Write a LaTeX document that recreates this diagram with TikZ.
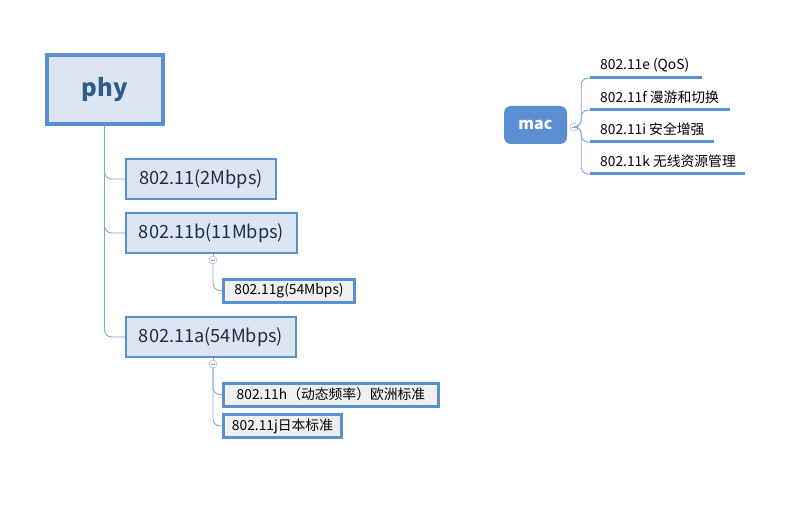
\documentclass[tikz,border=0pt]{standalone}
\usepackage{fontspec}
\setmainfont{Noto Sans CJK SC}
\definecolor{mapblue}{HTML}{5B8FD4}
\definecolor{mapfill}{HTML}{DCE6F2}
\definecolor{mapgray}{HTML}{F0F0F0}
\definecolor{maptext}{HTML}{1F2D4A}
\definecolor{mapline}{HTML}{80A6DA}
\definecolor{phytext}{HTML}{2E5A8E}
\begin{document}
\begin{tikzpicture}[
    x=1pt, y=-1pt,
    root/.style={rectangle, draw=mapblue, line width=4pt, fill=mapfill,
                 minimum width=116pt, minimum height=69pt, text=phytext,
                 font=\fontsize{24}{28}\selectfont\bfseries},
    topic/.style={rectangle, draw=mapblue, line width=2pt, fill=mapfill,
                  minimum width=#1, minimum height=40pt, text=maptext,
                  font=\fontsize{18.2}{21}\selectfont},
    subtopic/.style={rectangle, draw=mapblue, line width=3pt, fill=mapgray,
                     minimum width=#1, minimum height=23pt, text=black,
                     font=\fontsize{13.8}{16}\selectfont},
    macroot/.style={rectangle, rounded corners=7pt, fill=mapblue, text=white,
                    minimum width=63pt, minimum height=38pt,
                    font=\fontsize{16}{19}\selectfont\bfseries},
    lineitem/.style={anchor=south west, minimum height=26pt, inner xsep=10pt,
                     text=black, font=\fontsize{13.8}{16}\selectfont},
    uline/.style={draw=mapblue, line width=3pt},
    fold/.style={circle, draw=mapline, fill=white, inner sep=0pt, minimum size=8pt,
                 path picture={\draw[mapline]
                   ([xshift=-2.2pt]path picture bounding box.center) --
                   ([xshift=2.2pt]path picture bounding box.center);}},
    conn/.style={draw=mapline, line width=0.9pt, rounded corners=7pt}
]
\useasboundingbox (0,0) rectangle (785,508);

% phy branch
\node[root] (phy) at (104.5, 89.5) {phy};
\node[topic=150pt] (std) at (201, 179) {802.11(2Mbps)};
\node[topic=171pt] (stdb) at (211.5, 233) {802.11b(11Mbps)};
\node[topic=170pt] (stda) at (211, 337) {802.11a(54Mbps)};
\node[fold] (foldb) at (213, 260) {};
\node[fold] (folda) at (213, 364) {};
\node[subtopic=131pt] (stdg) at (289, 290.5) {802.11g(54Mbps)};
\node[subtopic=215pt] (stdh) at (331, 394.5) {802.11h（动态频率）欧洲标准};
\node[subtopic=118pt] (stdj) at (282.5, 426) {802.11j日本标准};

\draw[conn] (phy.south) |- (std.west);
\draw[conn] (phy.south) |- (stdb.west);
\draw[conn] (phy.south) |- (stda.west);
\draw[conn] (stdb.south -| foldb) -- (foldb.north);
\draw[conn] (foldb.south) |- (stdg.west);
\draw[conn] (stda.south -| folda) -- (folda.north);
\draw[conn] (folda.south) |- (stdh.west);
\draw[conn] (folda.south) |- (stdj.west);

% mac branch
\node[macroot] (mac) at (535.5, 125) {mac};
\node[fold] (foldm) at (574, 127) {};
\node[lineitem] (mace) at (590, 78) {802.11e (QoS)};
\node[lineitem] (macf) at (590, 110) {802.11f 漫游和切换};
\node[lineitem] (maci) at (590, 142) {802.11i 安全增强};
\node[lineitem] (mack) at (590, 174) {802.11k 无线资源管理};
\foreach \item/\len in {mace/112, macf/140, maci/124, mack/155} {
  \draw[uline] (\item.south west) -- ++(\len,0);
  \draw[conn] (foldm.east) -- ++(3,0) |- (\item.south west);
}
\end{tikzpicture}
\end{document}
